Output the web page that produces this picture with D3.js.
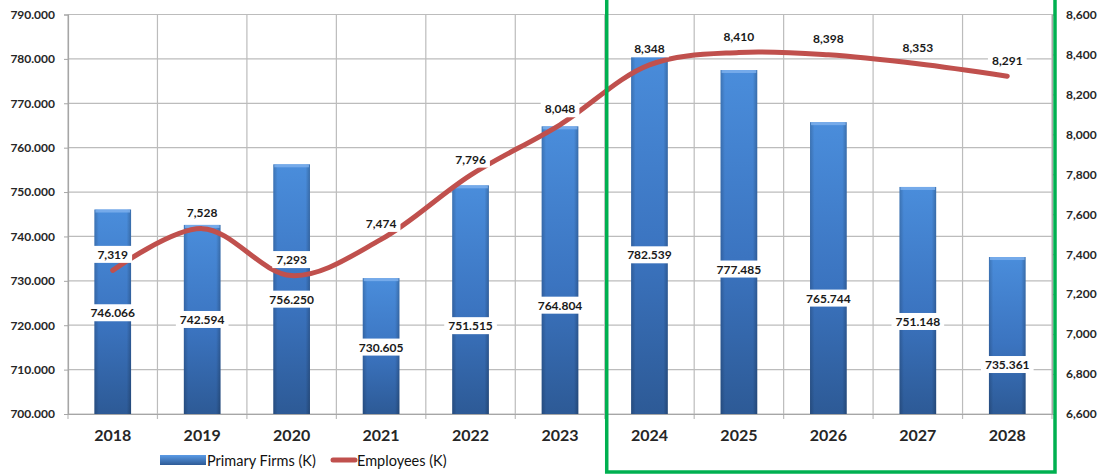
<!DOCTYPE html>
<html>
<head>
<meta charset="utf-8">
<script src="https://cdn.jsdelivr.net/npm/d3@7"></script>
<style>
  body { margin:0; background:#fff; }
  text { font-family: Lato, "Open Sans", sans-serif; }
</style>
</head>
<body>
<script>
var w = 1112;
var h = 476;

var years = ["2018","2019","2020","2021","2022","2023","2024","2025","2026","2027","2028"];
var firms = [746.066,742.594,756.250,730.605,751.515,764.804,782.539,777.485,765.744,751.148,735.361];
var employees = [7319,7528,7293,7474,7796,8048,8348,8410,8398,8353,8291];
var leftTicks = d3.range(700,791,10);
var rightTicks = d3.range(6600,8601,200);

// bar labels are moved down a bit in the original, to clear the line
var labelShift = [1,0,10,1,26,35,24,27,30,21,29];

var margin = {left:68, right:60, top:14.5, bottom:62};

var xScale = d3.scaleBand()
    .domain(years)
    .range([margin.left, w - margin.right])
    .paddingInner(0)
    .paddingOuter(0);

var yLeft = d3.scaleLinear()
    .domain([700,790])
    .range([h - margin.bottom, margin.top]);

var yRight = d3.scaleLinear()
    .domain([6600,8600])
    .range([h - margin.bottom, margin.top]);

var svg = d3.select("body")
    .append("svg")
    .attr("width",w)
    .attr("height",h);

var defs = svg.append("defs");
var grad = defs.append("linearGradient")
    .attr("id","barGrad")
    .attr("x1",0).attr("y1",0).attr("x2",0).attr("y2",1);
grad.append("stop").attr("offset","0%").attr("stop-color","#4a8ddb");
grad.append("stop").attr("offset","55%").attr("stop-color","#3b74c0");
grad.append("stop").attr("offset","100%").attr("stop-color","#2d5a96");

var side = defs.append("linearGradient")
    .attr("id","barSide")
    .attr("x1",0).attr("y1",0).attr("x2",1).attr("y2",0);
side.append("stop").attr("offset","0%").attr("stop-color","#000").attr("stop-opacity",0.18);
side.append("stop").attr("offset","12%").attr("stop-color","#000").attr("stop-opacity",0);
side.append("stop").attr("offset","88%").attr("stop-color","#000").attr("stop-opacity",0);
side.append("stop").attr("offset","100%").attr("stop-color","#000").attr("stop-opacity",0.22);

var x0 = margin.left, x1 = w - margin.right;
var yb = h - margin.bottom;

// horizontal grid
svg.append("g")
    .selectAll("line")
    .data(leftTicks)
    .enter()
    .append("line")
    .attr("x1",x0).attr("x2",x1)
    .attr("y1",function(d){ return yLeft(d); })
    .attr("y2",function(d){ return yLeft(d); })
    .attr("stroke","#bcbcbc")
    .attr("stroke-width",1.2);

// vertical grid at category edges
var edges = years.map(function(d){ return xScale(d); }).concat([x1]);
svg.append("g")
    .selectAll("line")
    .data(edges)
    .enter()
    .append("line")
    .attr("x1",function(d){ return d; })
    .attr("x2",function(d){ return d; })
    .attr("y1",margin.top)
    .attr("y2",yb + 5)
    .attr("stroke","#bcbcbc")
    .attr("stroke-width",1.2);

// left axis
var leftAxis = d3.axisLeft(yLeft)
    .tickValues(leftTicks)
    .tickFormat(d3.format(".3f"))
    .tickSize(4)
    .tickPadding(9);
var gl = svg.append("g")
    .attr("transform","translate(" + x0 + ",0)")
    .call(leftAxis);
gl.select(".domain").attr("stroke","#a6a6a6").attr("stroke-width",1.2);
gl.selectAll(".tick line").attr("stroke","#a6a6a6");
gl.selectAll("text")
    .attr("font-size",12)
    .attr("font-weight","bold")
    .attr("fill","#262626");

// right axis
var rightAxis = d3.axisRight(yRight)
    .tickValues(rightTicks)
    .tickFormat(d3.format(","))
    .tickSize(4)
    .tickPadding(10);
var gr = svg.append("g")
    .attr("transform","translate(" + x1 + ",0)")
    .call(rightAxis);
gr.select(".domain").attr("stroke","#a6a6a6").attr("stroke-width",1.2);
gr.selectAll(".tick line").attr("stroke","#a6a6a6");
gr.selectAll("text")
    .attr("font-size",12)
    .attr("font-weight","bold")
    .attr("fill","#262626");

// bottom axis
var bottomAxis = d3.axisBottom(xScale).tickSize(0).tickPadding(16);
var gb = svg.append("g")
    .attr("transform","translate(0," + yb + ")")
    .call(bottomAxis);
gb.select(".domain").attr("stroke","#a6a6a6").attr("stroke-width",1.2);
gb.selectAll("text")
    .attr("font-size",16)
    .attr("font-weight","bold")
    .attr("fill","#262626");

// bars
var barW = xScale.bandwidth() * 0.41;
var bars = svg.append("g")
    .selectAll("g")
    .data(firms)
    .enter()
    .append("g");
bars.append("rect")
    .attr("x",function(d,i){ return xScale(years[i]) + (xScale.bandwidth()-barW)/2; })
    .attr("y",function(d){ return yLeft(d); })
    .attr("width",barW)
    .attr("height",function(d){ return yb - yLeft(d); })
    .attr("fill","url(#barGrad)");
bars.append("rect")
    .attr("x",function(d,i){ return xScale(years[i]) + (xScale.bandwidth()-barW)/2; })
    .attr("y",function(d){ return yLeft(d); })
    .attr("width",barW)
    .attr("height",function(d){ return yb - yLeft(d); })
    .attr("fill","url(#barSide)");
bars.append("rect")
    .attr("x",function(d,i){ return xScale(years[i]) + (xScale.bandwidth()-barW)/2 + 1; })
    .attr("y",function(d){ return yLeft(d); })
    .attr("width",barW - 2)
    .attr("height",3)
    .attr("fill","#7fb2ee")
    .attr("opacity",0.8);

// line
var line = d3.line()
    .x(function(d,i){ return xScale(years[i]) + xScale.bandwidth()/2; })
    .y(function(d){ return yRight(d); })
    .curve(d3.curveCatmullRom.alpha(0.5));

svg.append("path")
    .datum(employees)
    .attr("d",line)
    .attr("fill","none")
    .attr("stroke","#c0504d")
    .attr("stroke-width",5)
    .attr("stroke-linecap","round");

// labels with white boxes
function boxLabel(g, x, y, txt){
    var t = g.append("text")
        .attr("x",x)
        .attr("y",y)
        .attr("text-anchor","middle")
        .attr("dominant-baseline","central")
        .attr("font-size",12)
        .attr("font-weight","bold")
        .attr("fill","#1a1a1a")
        .text(txt);
    var bb = t.node().getBBox();
    g.insert("rect","text:last-child")
        .attr("x",bb.x - 4)
        .attr("y",bb.y - 1)
        .attr("width",bb.width + 8)
        .attr("height",bb.height + 2)
        .attr("fill","#fff");
}

var labG = svg.append("g");
firms.forEach(function(d,i){
    var cx = xScale(years[i]) + xScale.bandwidth()/2;
    var cy = (yLeft(d) + yb)/2 + labelShift[i];
    var g = labG.append("g");
    boxLabel(g, cx, cy, d3.format(".3f")(d));
});
employees.forEach(function(d,i){
    var cx = xScale(years[i]) + xScale.bandwidth()/2;
    var g = labG.append("g");
    boxLabel(g, cx, yRight(d) - 16, d3.format(",")(d));
});

// legend
var leg = svg.append("g").attr("transform","translate(160,460)");
var lg2 = defs.append("linearGradient")
    .attr("id","legGrad")
    .attr("x1",0).attr("y1",0).attr("x2",0).attr("y2",1);
lg2.append("stop").attr("offset","0%").attr("stop-color","#5b9be6");
lg2.append("stop").attr("offset","100%").attr("stop-color","#2d5a96");
leg.append("rect")
    .attr("x",0).attr("y",-5)
    .attr("width",46).attr("height",10)
    .attr("fill","url(#legGrad)");
leg.append("text")
    .attr("x",47).attr("y",0)
    .attr("dominant-baseline","central")
    .attr("font-size",14.5)
    .attr("fill","#111")
    .text("Primary Firms (K)");
leg.append("line")
    .attr("x1",173).attr("x2",195)
    .attr("y1",0).attr("y2",0)
    .attr("stroke","#c0504d")
    .attr("stroke-width",5)
    .attr("stroke-linecap","round");
leg.append("text")
    .attr("x",197).attr("y",0)
    .attr("dominant-baseline","central")
    .attr("font-size",14.5)
    .attr("fill","#111")
    .text("Employees (K)");

// green frame around the forecast years
var fx = xScale("2024") + 2;
svg.append("rect")
    .attr("x",fx)
    .attr("y",-5)
    .attr("width",x1 + 3 - fx)
    .attr("height",477)
    .attr("fill","none")
    .attr("stroke","#00b050")
    .attr("stroke-width",3.5);
</script>
</body>
</html>
